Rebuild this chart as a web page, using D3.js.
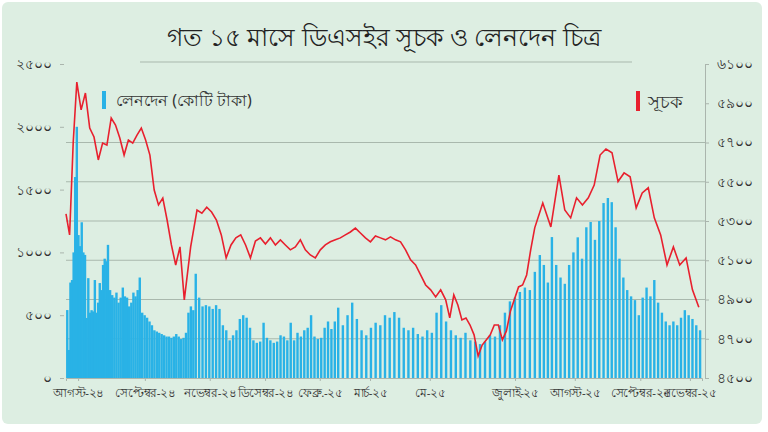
<!DOCTYPE html>
<html><head><meta charset="utf-8">
<script src="https://cdn.jsdelivr.net/npm/d3@7"></script>
<style>body{margin:0;background:#fff}svg{display:block}</style>
</head><body><svg id="c" width="768" height="432"></svg>
<script>
const title = "গত ১৫ মাসে ডিএসইর সূচক ও লেনদেন চিত্র";
const monthLabels = ["আগস্ট-২৪","সেপ্টেম্বর-২৪","নভেম্বর-২৪","ডিসেম্বর-২৪","ফেব্রু.-২৫","মার্চ-২৫","মে-২৫","জুলাই-২৫","আগস্ট-২৫","সেপ্টেম্বর-২৫","নভেম্বর-২৫"];
const monthPos = [0.019,0.124,0.226,0.313,0.399,0.478,0.572,0.706,0.8,0.903,0.981];
const leftTicks = [0,500,1000,1500,2000,2500];
const rightTicks = [4500,4700,4900,5100,5300,5500,5700,5900,6100];
const turnover = [541,223,760,780,1000,1600,2000,1138,1050,1240,1000,980,478,795,520,540,530,780,520,600,756,700,900,950,930,1060,700,660,640,680,600,640,720,650,640,570,600,680,650,700,800,520,500,480,450,420,380,370,360,350,340,330,330,320,330,350,330,310,320,360,520,570,540,830,640,570,580,570,550,580,550,420,380,300,340,380,470,500,480,400,300,280,290,440,320,300,280,290,340,330,300,440,300,360,330,380,400,500,330,310,320,400,450,390,450,560,420,500,600,470,380,340,400,440,420,500,480,525,480,400,380,400,350,330,380,360,520,580,450,380,340,320,360,300,290,270,290,340,330,420,520,610,640,685,720,700,845,979,900,760,1122,900,800,750,900,1000,1120,950,1200,1242,1100,1250,1393,1433,1400,1200,950,800,700,650,620,500,640,720,650,780,600,520,450,420,450,420,480,540,500,470,420,380];
const dsex = [5336,5229,5700,6008,5866,5952,5774,5728,5611,5697,5687,5825,5789,5723,5636,5713,5697,5738,5774,5713,5636,5458,5382,5417,5305,5178,5076,5168,4898,5168,5356,5340,5370,5346,5305,5229,5112,5178,5214,5229,5178,5112,5198,5214,5183,5214,5178,5204,5178,5153,5168,5204,5153,5127,5112,5153,5178,5194,5204,5214,5229,5244,5264,5239,5214,5194,5224,5214,5204,5219,5204,5194,5153,5102,5076,5025,4974,4949,4913,4949,4898,4806,4923,4872,4796,4806,4770,4720,4612,4668,4694,4720,4770,4770,4694,4740,4842,4903,4964,4974,5025,5153,5265,5392,5270,5534,5356,5316,5418,5382,5418,5483,5636,5667,5648,5501,5545,5525,5367,5443,5469,5316,5229,5076,5168,5076,5112,4949,4860];
// trading-day alignment anchors (sample index -> fraction of period)
const barAnchorIdx = [0,6,25,40,63,105,108,127,135,147,150,163,175,187];
const barAnchorPos = [0.002,0.017,0.066,0.116,0.204,0.428,0.45,0.59,0.651,0.745,0.764,0.852,0.925,0.997];
const lineAnchorIdx = [0,3,28,30,41,54,62,80,88,102,105,113,121,128];
const lineAnchorPos = [0,0.017,0.186,0.206,0.29,0.392,0.455,0.597,0.648,0.737,0.775,0.849,0.925,0.995];
const BLUE = "#29b2e6", RED = "#e8202e";

function bn(s){return String(s).replace(/\d/g,d=>"০১২৩৪৫৬৭৮৯"[d]);}
const svg = d3.select("#c");
const W=768,H=432, x0=66, x1=702, yTop=64, yBot=378;
svg.append("rect").attr("width",W).attr("height",H).attr("fill","#fff");
svg.append("rect").attr("x",2).attr("y",2).attr("width",W-8).attr("height",H-10).attr("rx",6).attr("fill","#ddeee2");

const yL = d3.scaleLinear().domain([0,2500]).range([yBot,yTop]);
const yR = d3.scaleLinear().domain([4500,6100]).range([yBot,yTop]);
const xm = d3.scaleLinear().domain([0,1]).range([x0,x1]);
const xb = d3.scaleLinear().domain(barAnchorIdx).range(barAnchorPos.map(xm));
const xl = d3.scaleLinear().domain(lineAnchorIdx).range(lineAnchorPos.map(xm));
const bw = 2.4;

svg.append("g").selectAll("line").data(rightTicks.filter(v=>v>4500&&v<5900)).join("line")
 .attr("x1",x0).attr("x2",705).attr("y1",d=>yR(d)).attr("y2",d=>yR(d)).attr("stroke","#a9b8ad").attr("stroke-width",1);
svg.append("line").attr("x1",140).attr("x2",632).attr("y1",yR(6100)-2).attr("y2",yR(6100)-2).attr("stroke","#a9b8ad");

svg.append("g").selectAll("rect").data(turnover).join("rect")
 .attr("x",(d,i)=>xb(i)-bw/2).attr("width",bw).attr("y",d=>yL(d)).attr("height",d=>yBot-yL(d)).attr("fill",BLUE);

svg.append("path").datum(dsex).attr("fill","none").attr("stroke",RED).attr("stroke-width",1.6)
 .attr("d",d3.line().x((d,i)=>xl(i)).y(d=>yR(d)));

const font = "'Noto Sans', sans-serif";
const gl = svg.append("g").attr("transform",`translate(${x0-2},0)`).call(d3.axisLeft(yL).tickValues(leftTicks).tickFormat(bn).tickSize(4).tickPadding(8));
const gr = svg.append("g").attr("transform",`translate(705,0)`).call(d3.axisRight(yR).tickValues(rightTicks).tickFormat(bn).tickSize(4).tickPadding(8));
const gb = svg.append("g").attr("transform",`translate(0,${yBot})`).call(d3.axisBottom(xm).tickValues(monthPos).tickFormat((d,i)=>monthLabels[i]).tickSize(3).tickPadding(8));
[gl,gr,gb].forEach(g=>{g.selectAll("path,line").attr("stroke","#aab5ad");g.selectAll("text").attr("fill","#333").attr("font-family",font).attr("font-size",14);});
gl.select(".domain").remove();
gb.selectAll("text").attr("font-size",11.5).attr("letter-spacing",-0.4);

svg.append("text").attr("x",384).attr("y",46).attr("text-anchor","middle").attr("font-family",font).attr("font-size",25).attr("fill","#222").text(title);
svg.append("rect").attr("x",102).attr("y",91).attr("width",4).attr("height",18).attr("fill",BLUE);
svg.append("text").attr("x",116).attr("y",106).attr("font-family",font).attr("font-size",16).attr("fill","#333").text("লেনদেন (কোটি টাকা)");
svg.append("rect").attr("x",636).attr("y",91).attr("width",4).attr("height",20).attr("fill",RED);
svg.append("text").attr("x",648).attr("y",108).attr("font-family",font).attr("font-size",18).attr("fill","#333").text("সূচক");
</script></body></html>
